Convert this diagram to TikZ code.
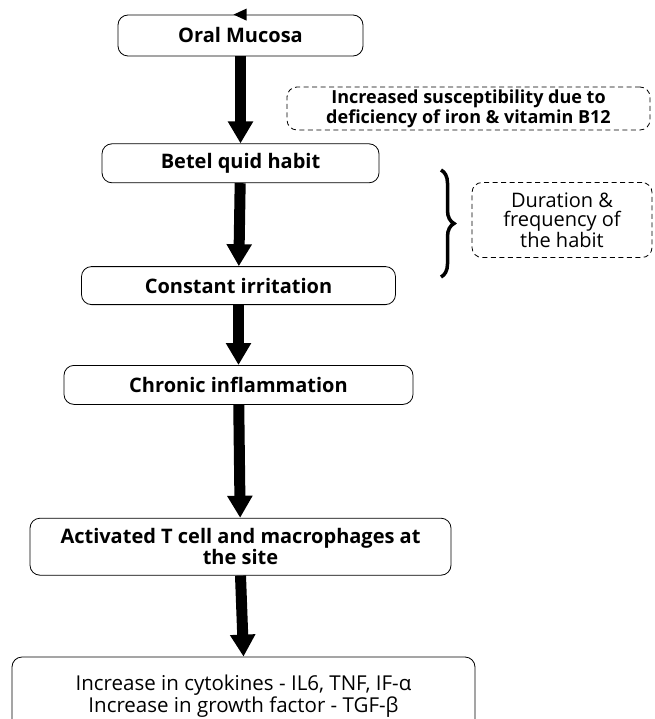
\documentclass[tikz,border=0pt]{standalone}
\usepackage{fontspec}
\setmainfont{Open Sans}
\usetikzlibrary{arrows.meta, positioning, decorations.pathreplacing}

\tikzset{
  stepbox/.style={draw, rounded corners=10pt, line width=0.8pt, align=center,
    inner sep=2pt, font=\bfseries\fontsize{20}{21}\selectfont},
  notebox/.style={draw, dash pattern=on 5pt off 3.5pt, rounded corners=10pt, line width=0.8pt,
    align=center, inner sep=2pt, font=\bfseries\fontsize{18}{20}\selectfont},
  bigarrow/.style={line width=11pt, -{Triangle[width=24pt, length=22pt]}},
}

\begin{document}
\begin{tikzpicture}[x=1pt, y=-1pt]
  \clip (0,0) rectangle (654,719);

  %% main chain
  \node[stepbox, minimum width=245pt, minimum height=41pt] (om) at (240.5,35.5) {Oral Mucosa};
  \node[stepbox, minimum width=277pt, minimum height=39pt, below=87pt of om] (bq) {Betel quid habit};
  \node[stepbox, minimum width=314pt, minimum height=38pt, below=83pt of bq, xshift=-2pt] (ci) {Constant irritation};
  \node[stepbox, minimum width=349pt, minimum height=39pt, below=60pt of ci] (ch) {Chronic inflammation};
  \node[stepbox, minimum width=421pt, minimum height=57pt, below=113pt of ch, xshift=2pt] (at)
    {Activated T cell and macrophages at\\the site};
  \node[stepbox, font=\fontsize{20.5}{22}\selectfont, minimum width=463pt, inner ysep=18pt,
    below=81pt of at, xshift=3pt] (gf)
    {Increase in cytokines - IL6, TNF, IF-α\\Increase in growth factor - TGF-β};

  \fill ([xshift=-7pt]om.north) -- ++(13,-6) -- ++(0,12) -- cycle;

  \draw[bigarrow] (om) -- (bq);
  \draw[bigarrow] (bq) -- (ci);
  \draw[bigarrow] (ci) -- (ch);
  \draw[bigarrow] (ch) -- (at);
  \draw[bigarrow] (at.south) -- (gf.north);

  %% side notes
  \node[notebox, minimum width=363pt, minimum height=43pt] (sus) at (468.5,108.5)
    {Increased susceptibility due to\\deficiency of iron \& vitamin B12};
  \node[notebox, font=\fontsize{20}{19}\selectfont, minimum width=180pt, minimum height=75pt]
    (dur) at (562,220) {Duration \&\\frequency of\\the habit};

  \coordinate (br1) at (441,170);
  \coordinate (br2) at (441,277);
  \draw[line width=3.5pt, decorate, decoration={brace, amplitude=13pt}] (br1) -- (br2);
\end{tikzpicture}
\end{document}
